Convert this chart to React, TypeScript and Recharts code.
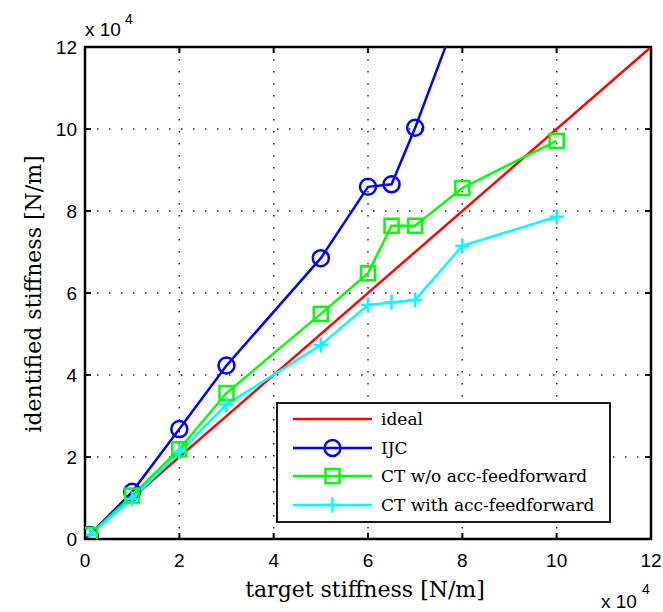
import { LineChart, Line, XAxis, YAxis, CartesianGrid, Customized } from "recharts";

// Identified vs. target stiffness, both axes in units of 10^4 N/m.
const targetX = [0.1, 1, 2, 3, 5, 6, 6.5, 7, 8, 10];
const idealX = [0, 12];
const idealY = [0, 12];
// IJC runs off the top of the axes after 7e4
const ijcY = [0.1, 1.15, 2.68, 4.23, 6.85, 8.59, 8.65, 10.03, 13.1];
const ctNoAccY = [0.1, 1.06, 2.19, 3.56, 5.49, 6.48, 7.64, 7.64, 8.56, 9.71];
const ctAccY = [0.1, 0.98, 2.12, 3.28, 4.73, 5.71, 5.77, 5.83, 7.15, 7.86];
const axisTicks = [0, 2, 4, 6, 8, 10, 12];

const W = 663;
const H = 612;
const LEFT = 85;
const RIGHT = 651;
const TOP = 47;
const BOTTOM = 539;

const SANS = '"Liberation Sans", Arial, sans-serif';
const SERIF = '"DejaVu Serif", serif';

const pts = (xs: number[], ys: number[]) => ys.map((y, i) => ({ x: xs[i], y }));

const RED = "#ff0000";
const BLUE = "#0000ff";
const GREEN = "#00ff00";
const CYAN = "#00ffff";
const LW = 2.5;

function CircleMark(p: any) {
  if (p.cx == null || p.cy == null) return <g key={p.key} />;
  return <circle key={p.key} cx={p.cx} cy={p.cy} r={8} fill="none" stroke={BLUE} strokeWidth={LW} />;
}

function SquareMark(p: any) {
  if (p.cx == null || p.cy == null) return <g key={p.key} />;
  return <rect key={p.key} x={p.cx - 7} y={p.cy - 7} width={14} height={14} fill="none" stroke={GREEN} strokeWidth={LW} />;
}

function PlusMark(p: any) {
  if (p.cx == null || p.cy == null) return <g key={p.key} />;
  return (
    <g key={p.key} stroke={CYAN} strokeWidth={LW}>
      <line x1={p.cx - 7} x2={p.cx + 7} y1={p.cy} y2={p.cy} />
      <line x1={p.cx} x2={p.cx} y1={p.cy - 7.5} y2={p.cy + 7.5} />
    </g>
  );
}

function XTick({ x, payload }: any) {
  return (
    <g>
      <line x1={x} x2={x} y1={BOTTOM} y2={BOTTOM - 6} stroke="#000" strokeWidth={2} />
      <line x1={x} x2={x} y1={TOP} y2={TOP + 6} stroke="#000" strokeWidth={2} />
      <text x={x} y={560} textAnchor="middle" dominantBaseline="central" fontFamily={SANS} fontSize={19} fill="#000">
        {payload.value}
      </text>
    </g>
  );
}

function YTick({ y, payload }: any) {
  return (
    <g>
      <line x1={LEFT} x2={LEFT + 6} y1={y} y2={y} stroke="#000" strokeWidth={2} />
      <line x1={RIGHT} x2={RIGHT - 6} y1={y} y2={y} stroke="#000" strokeWidth={2} />
      <text x={77} y={y} textAnchor="end" dominantBaseline="central" fontFamily={SANS} fontSize={19} fill="#000">
        {payload.value}
      </text>
    </g>
  );
}

const legendItems = [
  { name: "ideal", color: RED, mark: null },
  { name: "IJC", color: BLUE, mark: CircleMark },
  { name: "CT w/o acc-feedforward", color: GREEN, mark: SquareMark },
  { name: "CT with acc-feedforward", color: CYAN, mark: PlusMark },
];

function Overlay() {
  const rowY = [419, 448, 476, 505];
  return (
    <g>
      {/* axes box */}
      <rect x={LEFT} y={TOP} width={RIGHT - LEFT} height={BOTTOM - TOP} fill="none" stroke="#000" strokeWidth={2.5} />

      {/* exponent labels */}
      <text x={85} y={36} fontFamily={SANS} fontSize={19} fill="#000">x 10</text>
      <text x={125} y={24} fontFamily={SANS} fontSize={14} fill="#000">4</text>
      <text x={601} y={608} fontFamily={SANS} fontSize={19} fill="#000">x 10</text>
      <text x={642} y={594} fontFamily={SANS} fontSize={14} fill="#000">4</text>

      {/* axis titles */}
      <text x={365} y={597} textAnchor="middle" fontFamily={SERIF} fontSize={22} fill="#000">
        target stiffness [N/m]
      </text>
      <text
        x={0}
        y={0}
        transform="translate(41 294) rotate(-90)"
        textAnchor="middle"
        fontFamily={SERIF}
        fontSize={22}
        fill="#000"
      >
        identified stiffness [N/m]
      </text>

      {/* legend */}
      <rect x={277} y={403} width={333} height={119} fill="#fff" stroke="#000" strokeWidth={1.8} />
      {legendItems.map((it, i) => {
        const Mark = it.mark;
        return (
          <g key={it.name}>
            <line x1={293} x2={372} y1={rowY[i]} y2={rowY[i]} stroke={it.color} strokeWidth={LW} />
            {Mark ? <Mark key={"m" + i} cx={332.5} cy={rowY[i]} /> : null}
            <text x={381} y={rowY[i]} dominantBaseline="central" fontFamily={SERIF} fontSize={17} fill="#000">
              {it.name}
            </text>
          </g>
        );
      })}
    </g>
  );
}

export default function App() {
  return (
    <div style={{ position: "absolute", left: 0, top: 0, width: W, height: H, background: "#fff" }}>
      <LineChart width={W} height={H} margin={{ top: TOP, right: W - RIGHT, bottom: 0, left: 0 }}>
        <CartesianGrid stroke="#222" strokeDasharray="1.5 10.5" strokeWidth={1.4} />
        <XAxis
          type="number"
          dataKey="x"
          domain={[0, 12]}
          ticks={axisTicks}
          allowDataOverflow
          height={H - BOTTOM}
          axisLine={false}
          tickLine={false}
          tick={<XTick />}
        />
        <YAxis
          type="number"
          dataKey="y"
          domain={[0, 12]}
          ticks={axisTicks}
          allowDataOverflow
          width={LEFT}
          axisLine={false}
          tickLine={false}
          tick={<YTick />}
        />
        <Line data={pts(idealX, idealY)} dataKey="y" stroke={RED} strokeWidth={LW} dot={false} isAnimationActive={false} />
        <Line data={pts(targetX, ijcY)} dataKey="y" stroke={BLUE} strokeWidth={LW} dot={CircleMark} isAnimationActive={false} />
        <Line data={pts(targetX, ctNoAccY)} dataKey="y" stroke={GREEN} strokeWidth={LW} dot={SquareMark} isAnimationActive={false} />
        <Line data={pts(targetX, ctAccY)} dataKey="y" stroke={CYAN} strokeWidth={LW} dot={PlusMark} isAnimationActive={false} />
        <Customized component={Overlay} />
      </LineChart>
    </div>
  );
}
